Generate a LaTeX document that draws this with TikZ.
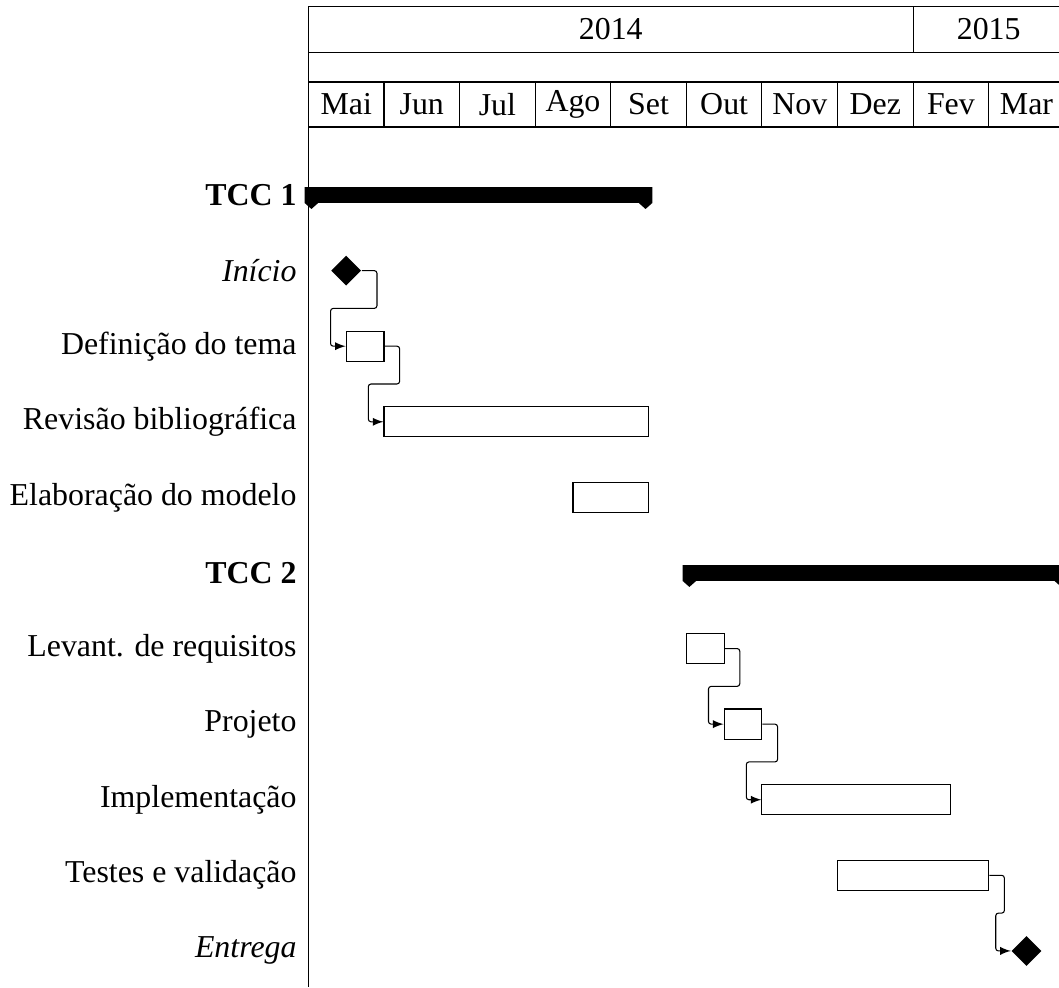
\documentclass[tikz,border=0pt]{standalone}
\usepackage{fontspec}
\setmainfont{Liberation Serif}
\usetikzlibrary{shapes.geometric}

\tikzset{
  tarefa/.style={rectangle, draw, minimum height=0.4cm, inner sep=0pt},
  marco/.style={diamond, fill, minimum size=0.4cm, inner sep=0pt},
  rotulo/.style={anchor=east, inner sep=0pt},
  ligacao/.style={-latex, rounded corners=1pt},
}

\begin{document}
\begin{tikzpicture}[font=\fontsize{12}{14}\selectfont]
\useasboundingbox (-4.08,0) rectangle (9.93,-13.06);

% cabecalho
\draw (0,-0.08) rectangle (10,-1.68);
\draw (0,-0.69) -- (10,-0.69);
\draw (0,-1.085) -- (10,-1.085);
\draw (8,-0.08) -- (8,-0.69);
\foreach \x in {1,...,9} \draw (\x,-1.085) -- (\x,-1.68);
\draw (0,-1.68) -- (0,-13.06);

\node (ano14) at (4,-0.385) {2014};
\node (ano15) at (9,-0.385) {2015};
\foreach \m [count=\i from 0] in {Mai,Jun,Jul,Ago,Set,Out,Nov,Dez,Fev,Mar}
  \node (mes\i) at (\i+0.5,-1.38) {\m};

% rotulos
\node[rotulo] (lg1) at (-0.15,-2.58) {\textbf{TCC 1}};
\node[rotulo] (l1) at (-0.15,-3.58) {\textit{Início}};
\node[rotulo] (l2) at (-0.15,-4.58) {Definição do tema};
\node[rotulo] (l3) at (-0.15,-5.58) {Revisão bibliográfica};
\node[rotulo] (l4) at (-0.15,-6.58) {Elaboração do modelo};
\node[rotulo] (lg2) at (-0.15,-7.58) {\textbf{TCC 2}};
\node[rotulo] (l6) at (-0.15,-8.58) {Levant. de requisitos};
\node[rotulo] (l7) at (-0.15,-9.58) {Projeto};
\node[rotulo] (l8) at (-0.15,-10.58) {Implementação};
\node[rotulo] (l9) at (-0.15,-11.58) {Testes e validação};
\node[rotulo] (l10) at (-0.15,-12.58) {\textit{Entrega}};

% grupos
\fill (-0.05,-2.475) -- (4.55,-2.475) -- (4.55,-2.685) -- (4.46,-2.765) -- (4.37,-2.685)
  -- (0.13,-2.685) -- (0.04,-2.765) -- (-0.05,-2.685) -- cycle;
\fill (4.95,-7.475) -- (10.05,-7.475) -- (10.05,-7.685) -- (9.96,-7.765) -- (9.87,-7.685)
  -- (5.13,-7.685) -- (5.04,-7.765) -- (4.95,-7.685) -- cycle;

% tarefas
\node[marco] (ini) at (0.5,-3.58) {};
\node[tarefa, minimum width=0.5cm] (def) at (0.75,-4.58) {};
\node[tarefa, minimum width=3.5cm] (rev) at (2.75,-5.58) {};
\node[tarefa, minimum width=1cm] (elab) at (4,-6.58) {};
\node[tarefa, minimum width=0.5cm] (lev) at (5.25,-8.58) {};
\node[tarefa, minimum width=0.5cm] (proj) at (5.75,-9.58) {};
\node[tarefa, minimum width=2.5cm] (impl) at (7.25,-10.58) {};
\node[tarefa, minimum width=2cm] (test) at (8,-11.58) {};
\node[marco] (ent) at (9.5,-12.58) {};

% ligacoes
\draw[ligacao] (ini.east) -- ++(0.2,0) -- ++(0,-0.5) -| ([xshift=-2mm]def.west) -- (def.west);
\draw[ligacao] (def.east) -- ++(0.2,0) -- ++(0,-0.5) -| ([xshift=-2mm]rev.west) -- (rev.west);
\draw[ligacao] (lev.east) -- ++(0.2,0) -- ++(0,-0.5) -| ([xshift=-2mm]proj.west) -- (proj.west);
\draw[ligacao] (proj.east) -- ++(0.2,0) -- ++(0,-0.5) -| ([xshift=-2mm]impl.west) -- (impl.west);
\draw[ligacao] (test.east) -- ++(0.2,0) -- ++(0,-0.5) -| ([xshift=-2mm]ent.west) -- (ent.west);

\end{tikzpicture}
\end{document}
